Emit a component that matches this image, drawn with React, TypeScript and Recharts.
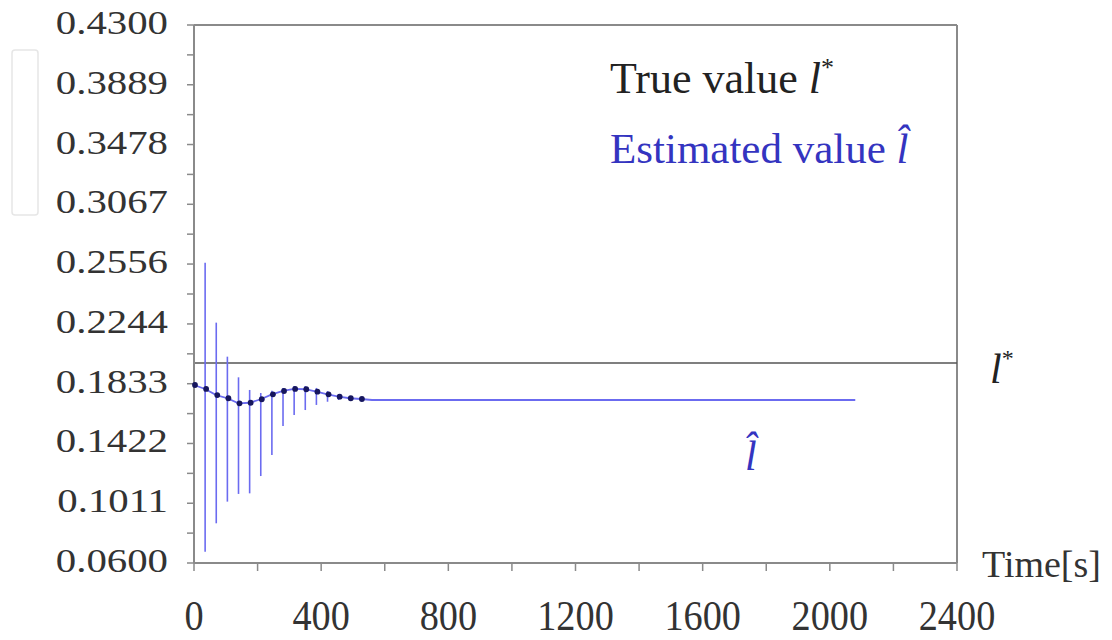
import { LineChart, Line, XAxis, YAxis, ReferenceLine, ReferenceDot, ErrorBar } from 'recharts';

// estimate samples: one point per update step, then the settled value to the end of the run
const times = [0, 35, 70, 105, 140, 175, 210, 245, 280, 315, 350, 385, 420, 455, 490, 525, 560, 2080];
const estimate = [
  0.1824, 0.1797, 0.1755, 0.1733, 0.1698, 0.1702, 0.1726, 0.176, 0.1783, 0.1797, 0.1795, 0.1778,
  0.176, 0.1744, 0.1733, 0.1728, 0.1721, 0.1721,
];
// spread of each update step (vertical spikes)
const spikeHigh = [0.1824, 0.2665, 0.2253, 0.2019, 0.1877, 0.179, 0.1769, 0.1785, 0.1804, 0.1817, 0.1817, 0.1804, 0.1783, 0.1762];
const spikeLow = [0.06, 0.0678, 0.0873, 0.1022, 0.1075, 0.1079, 0.1198, 0.1343, 0.1542, 0.1618, 0.1652, 0.1687, 0.1709, 0.1721];
// update steps that still show a marker
const markedSteps = 16;

const trueValue = 0.1975;

const yTicks = [0.06, 0.1011, 0.1422, 0.1833, 0.2244, 0.2656, 0.3067, 0.3478, 0.3889, 0.43];
const yTickLabels = ['0.0600', '0.1011', '0.1422', '0.1833', '0.2244', '0.2556', '0.3067', '0.3478', '0.3889', '0.4300'];
const xTicks = [0, 200, 400, 600, 800, 1000, 1200, 1400, 1600, 1800, 2000, 2200, 2400];
const xTickLabels = ['0', '', '400', '', '800', '', '1200', '', '1600', '', '2000', '', '2400'];

const serif = "'Liberation Serif', 'DejaVu Serif', serif";
const axisGray = '#8a8a8a';
const blue = '#6b6bf0';
const textBlue = '#3434c0';
const lHat = 'l\u0302';

const data = times.map((t, i) => ({
  t,
  est: estimate[i],
  err: i < spikeHigh.length ? [estimate[i] - spikeLow[i], spikeHigh[i] - estimate[i]] : null,
}));

// minor ticks halfway between labelled ones
const yAllTicks: number[] = [];
yTicks.forEach((v, i) => {
  yAllTicks.push(v);
  if (i < yTicks.length - 1) yAllTicks.push((v + yTicks[i + 1]) / 2);
});

function yLabel(v: number) {
  const i = yTicks.findIndex((tv) => Math.abs(tv - v) < 1e-6);
  return i >= 0 ? yTickLabels[i] : '';
}

const YTick = (props: any) => {
  const { x, y, payload } = props;
  const label = yLabel(payload.value);
  if (!label) return <g />;
  return (
    <g transform={`translate(${x},${y})`}>
      <text transform="scale(1.2,1)" textAnchor="end" dy={9} fontSize={34} fontFamily={serif} fill="#333">
        {label}
      </text>
    </g>
  );
};

const XTick = (props: any) => {
  const { x, y, payload } = props;
  const label = xTickLabels[xTicks.indexOf(payload.value)];
  if (!label) return <g />;
  return (
    <g transform={`translate(${x},${y})`}>
      <text transform="scale(0.89,1)" textAnchor="middle" dy={57} fontSize={43} fontFamily={serif} fill="#333">
        {label}
      </text>
    </g>
  );
};

const renderDot = (props: any) => {
  const { cx, cy, index } = props;
  if (index >= markedSteps) return <g key={`dot-${index}`} />;
  return <circle key={`dot-${index}`} cx={cx + 1} cy={cy} r={2.9} fill="#16165e" />;
};

const TimeLabel = (props: any) => {
  const { viewBox } = props;
  return (
    <text x={viewBox.x + viewBox.width + 25} y={viewBox.y + 14} fontSize={38} fontFamily={serif} fill="#333">
      Time[s]
    </text>
  );
};

const StarLabel = (props: any) => {
  const { viewBox } = props;
  const x = viewBox.x + viewBox.width + 33;
  const y = viewBox.y + 20;
  return (
    <text x={x} y={y} fontSize={42} fontFamily={serif} fontStyle="italic" fill="#222">
      l
      <tspan fontSize={24} dy={-17} fontStyle="normal">*</tspan>
    </text>
  );
};

const HatLabel = (props: any) => {
  const { viewBox } = props;
  return (
    <text x={viewBox.x - 6} y={viewBox.y + 70} fontSize={42} fontStyle="italic" fill={textBlue} fontFamily={serif}>
      {lHat}
    </text>
  );
};

export default function App() {
  return (
    <div style={{ position: 'absolute', left: 0, top: 0, width: 1112, height: 640, background: '#fff' }}>
      <LineChart width={1112} height={640} data={data} margin={{ top: 25, right: 155, bottom: 0, left: 0 }}>
        <XAxis
          dataKey="t"
          type="number"
          domain={[0, 2400]}
          ticks={xTicks}
          interval={0}
          tickSize={8}
          tick={<XTick />}
          height={77}
          axisLine={{ stroke: axisGray, strokeWidth: 2 }}
          tickLine={{ stroke: axisGray, strokeWidth: 1.5 }}
          label={TimeLabel}
        />
        <YAxis
          type="number"
          domain={[0.06, 0.43]}
          ticks={yAllTicks}
          interval={0}
          width={194}
          tickSize={7}
          tickMargin={19}
          tick={<YTick />}
          allowDataOverflow
          axisLine={{ stroke: axisGray, strokeWidth: 2 }}
          tickLine={{ stroke: axisGray, strokeWidth: 1.5 }}
        />
        <ReferenceLine y={0.43} stroke={axisGray} strokeWidth={2} />
        <ReferenceLine x={2400} stroke={axisGray} strokeWidth={2} />
        <ReferenceLine y={trueValue} stroke="#555" strokeWidth={1.5} label={StarLabel} />
        <Line
          type="linear"
          dataKey="est"
          stroke={blue}
          strokeWidth={1.8}
          dot={renderDot}
          activeDot={false}
          isAnimationActive={false}
        >
          <ErrorBar dataKey="err" direction="y" width={0} stroke={blue} strokeWidth={1.6} />
        </Line>
        <ReferenceDot x={1752} y={estimate[estimate.length - 1]} r={0} fill="none" stroke="none" label={HatLabel} />
      </LineChart>
      <svg width={1112} height={640} style={{ position: 'absolute', left: 0, top: 0, pointerEvents: 'none' }}>
        <rect x={12} y={50} width={26} height={165} rx={3} fill="none" stroke="#e6e6e6" strokeWidth={1.5} />
        <text x={610} y={93} fontSize={44} fontFamily={serif} fill="#222">
          True value <tspan fontStyle="italic">l</tspan>
          <tspan fontSize={26} dy={-17}>*</tspan>
        </text>
        <text x={610} y={163} fontSize={43} fontFamily={serif} fill={textBlue}>
          Estimated value <tspan fontStyle="italic">{lHat}</tspan>
        </text>
      </svg>
    </div>
  );
}
